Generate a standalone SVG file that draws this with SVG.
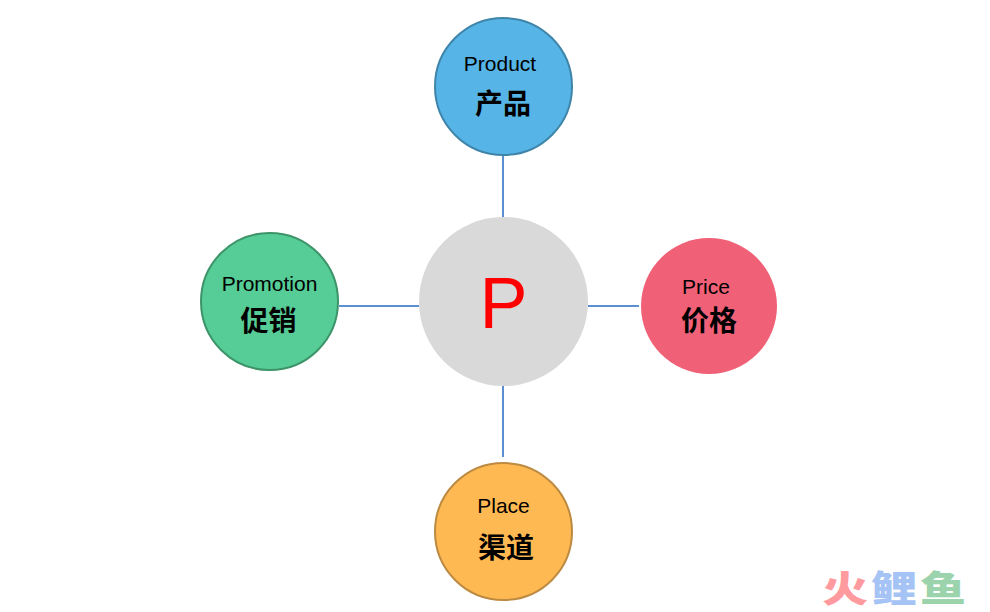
<svg xmlns="http://www.w3.org/2000/svg" width="990" height="612" viewBox="0 0 990 612">
<style>
.c{stroke:#5b8fcf;stroke-width:2;fill:none}
.en{font-family:"Liberation Sans",Arial,sans-serif;font-size:21px;fill:#000;text-anchor:middle}
.zh{font-family:"Liberation Sans","Noto Sans CJK SC",sans-serif;font-size:28px;font-weight:700;fill:#000;text-anchor:middle}
.wm{font-family:"Noto Sans CJK SC",sans-serif;font-size:46px;font-weight:900;text-anchor:middle}
</style>
<rect width="990" height="612" fill="#fff"/>
<g id="connectors">
<line class="c" x1="503" y1="156" x2="503" y2="217"/>
<line class="c" x1="503" y1="386" x2="503" y2="457"/>
<line class="c" x1="339" y1="306" x2="419" y2="306"/>
<line class="c" x1="588" y1="306" x2="639" y2="306"/>
</g>
<g id="center">
<circle cx="503.500" cy="301.500" r="84.500" fill="#d9d9d9"/>
<text x="503.500" y="328" font-family="'Liberation Sans',Arial,sans-serif" font-size="72" fill="#ff0000" text-anchor="middle">P</text>
</g>
<g id="product">
<circle cx="503.500" cy="86.500" r="68.500" fill="#56b4e6" stroke="#3f85aa" stroke-width="2"/>
<text class="en" x="500" y="71">Product</text>
<text class="zh" x="503" y="114">产品</text>
</g>
<g id="promotion">
<circle cx="269.500" cy="301.500" r="68.500" fill="#56cc96" stroke="#3d9468" stroke-width="2"/>
<text class="en" x="269.500" y="291">Promotion</text>
<text class="zh" x="268.500" y="331">促销</text>
</g>
<g id="price">
<circle cx="709" cy="306" r="68" fill="#f06178"/>
<text class="en" x="706" y="294">Price</text>
<text class="zh" x="709" y="331">价格</text>
</g>
<g id="place">
<circle cx="503.500" cy="531.500" r="68.500" fill="#ffb953" stroke="#bc8a40" stroke-width="2"/>
<text class="en" x="503.500" y="513">Place</text>
<text class="zh" x="506" y="558">渠道</text>
</g>
<g id="watermark">
<text class="wm" transform="translate(845 602) scale(1 .8)" fill="#ff9a9e">火</text>
<text class="wm" transform="translate(894 602) scale(1 .8)" fill="#a5c3f5">鲤</text>
<text class="wm" transform="translate(943 602) scale(1 .8)" fill="#9bd3ad">鱼</text>
</g>
</svg>
